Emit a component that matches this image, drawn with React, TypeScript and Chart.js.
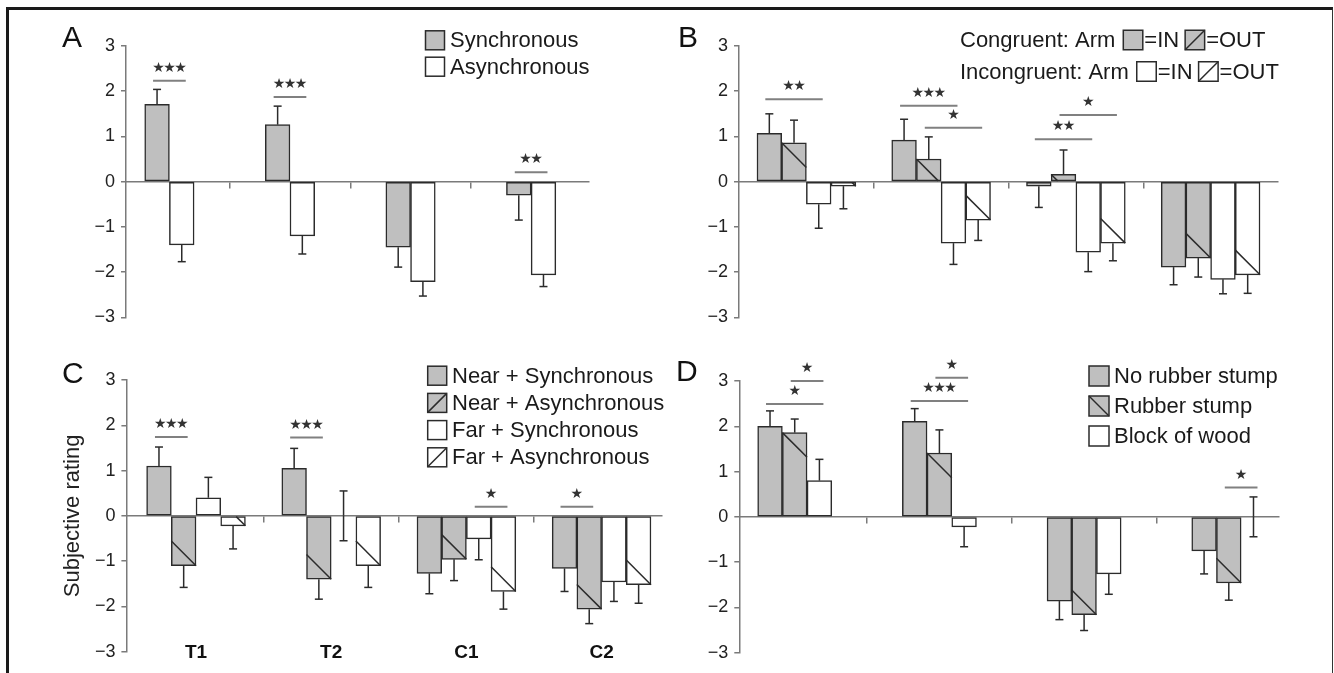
import React, { useEffect, useRef } from 'react';
import { Chart, registerables } from 'chart.js';

Chart.register(...registerables);

const FONT = '"Liberation Sans", Arial, Helvetica, sans-serif';
const STAR_FONT = '"DejaVu Sans", sans-serif';
const GRAY = '#bfbfbf';
const WHITE = '#ffffff';
const EDGE = '#2b2b2b';
const AXIS = '#7a7a7a';
const TEXT = '#1a1a1a';

// ---------- shared ----------
const groupLabels = ['T1', 'T2', 'C1', 'C2'];
const yTicks = [-3, -2, -1, 0, 1, 2, 3];
const yTitleC = 'Subjective rating';

// ---------- Panel A ----------
const aLabels = ['Synchronous', 'Asynchronous'];
const aSync = [1.71, 1.26, -1.45, -0.3];
const aSyncErr = [0.33, 0.41, 0.44, 0.55];
const aAsync = [-1.4, -1.2, -2.21, -2.06];
const aAsyncErr = [0.37, 0.4, 0.32, 0.26];
const aSigs = [
  { group: 0, from: 0, to: 1, level: 2.23, label: '***' },
  { group: 1, from: 0, to: 1, level: 1.87, label: '***' },
  { group: 3, from: 0, to: 1, level: 0.21, label: '**' },
];

// ---------- Panel B ----------
const bLabels = ['Congruent: Arm IN', 'Congruent: Arm OUT', 'Incongruent: Arm IN', 'Incongruent: Arm OUT'];
const bLegendRows = ['Congruent: Arm', 'Incongruent: Arm'];
const bLegendKeys = ['=IN', '=OUT'];
const bCongIn = [1.07, 0.92, -0.1, -1.89];
const bCongInErr = [0.43, 0.46, 0.47, 0.39];
const bCongOut = [0.86, 0.5, 0.16, -1.69];
const bCongOutErr = [0.5, 0.49, 0.54, 0.42];
const bIncIn = [-0.5, -1.36, -1.56, -2.16];
const bIncInErr = [0.53, 0.47, 0.43, 0.32];
const bIncOut = [-0.1, -0.85, -1.36, -2.06];
const bIncOutErr = [0.5, 0.45, 0.39, 0.41];
const bSigs = [
  { group: 0, from: 0, to: 2, level: 1.82, label: '**' },
  { group: 1, from: 0, to: 2, level: 1.68, label: '***' },
  { group: 1, from: 1, to: 3, level: 1.19, label: '*' },
  { group: 2, from: 0, to: 2, level: 0.94, label: '**' },
  { group: 2, from: 1, to: 3, level: 1.475, label: '*' },
];

// ---------- Panel C ----------
const cLabels = ['Near + Synchronous', 'Near + Asynchronous', 'Far + Synchronous', 'Far + Asynchronous'];
const cNearSync = [1.1, 1.05, -1.27, -1.16];
const cNearSyncErr = [0.42, 0.44, 0.45, 0.51];
const cNearAsync = [-1.1, -1.4, -0.96, -2.06];
const cNearAsyncErr = [0.48, 0.44, 0.47, 0.32];
const cFarSync = [0.4, 0.0, -0.51, -1.46];
const cFarSyncErr = [0.45, 0.55, 0.46, 0.43];
const cFarAsync = [-0.22, -1.1, -1.67, -1.52];
const cFarAsyncErr = [0.51, 0.48, 0.39, 0.41];
const cSigs = [
  { group: 0, from: 0, to: 1, level: 1.74, label: '***' },
  { group: 1, from: 0, to: 1, level: 1.73, label: '***' },
  { group: 2, from: 2, to: 3, level: 0.2, label: '*' },
  { group: 3, from: 0, to: 1, level: 0.2, label: '*' },
];

// ---------- Panel D ----------
const dLabels = ['No rubber stump', 'Rubber stump', 'Block of wood'];
const dNoStump = [2.0, 2.11, -1.86, -0.75];
const dNoStumpErr = [0.34, 0.28, 0.41, 0.51];
const dRubber = [1.86, 1.41, -2.16, -1.46];
const dRubberErr = [0.3, 0.51, 0.35, 0.38];
const dWood = [0.8, -0.22, -1.26, 0.0];
const dWoodErr = [0.47, 0.44, 0.45, 0.44];
const dSigs = [
  { group: 0, from: 1, to: 2, level: 3.0, label: '*' },
  { group: 0, from: 0, to: 2, level: 2.49, label: '*' },
  { group: 1, from: 1, to: 2, level: 3.07, label: '*' },
  { group: 1, from: 0, to: 2, level: 2.56, label: '***' },
  { group: 3, from: 1, to: 2, level: 0.65, label: '*' },
];

type Series = { label: string; values: number[]; errors: number[]; fill: string; hatch: boolean };
type Sig = { group: number; from: number; to: number; level: number; label: string };
type Legend = {
  kind: 'list' | 'inline';
  boxX: number;
  textX: number;
  rows: number[];
  box: number;
  dir: 'up' | 'down';
};
type Panel = {
  id: string;
  box: { left: number; top: number; width: number; height: number };
  area: { left: number; right: number; top: number; bottom: number };
  xRange: [number, number];
  axisWidth: number;
  letterPos: { x: number; y: number };
  series: Series[];
  sigs: Sig[];
  legend: Legend;
  showGroups: boolean;
  yTitle: string;
};

const panels: Panel[] = [
  {
    id: 'A',
    box: { left: 10, top: 10, width: 657, height: 325 },
    area: { left: 126, right: 589, top: 46, bottom: 317.3 },
    xRange: [-0.36, 3.48],
    axisWidth: 40,
    letterPos: { x: 62, y: 46.5 },
    series: [
      { label: aLabels[0], values: aSync, errors: aSyncErr, fill: GRAY, hatch: false },
      { label: aLabels[1], values: aAsync, errors: aAsyncErr, fill: WHITE, hatch: false },
    ],
    sigs: aSigs,
    legend: { kind: 'list', boxX: 425.5, textX: 450, rows: [40.3, 66.7], box: 19, dir: 'up' },
    showGroups: false,
    yTitle: '',
  },
  {
    id: 'B',
    box: { left: 667, top: 10, width: 660, height: 325 },
    area: { left: 739, right: 1278, top: 46, bottom: 317.3 },
    xRange: [-0.5, 3.5],
    axisWidth: 40,
    letterPos: { x: 678, y: 47 },
    series: [
      { label: bLabels[0], values: bCongIn, errors: bCongInErr, fill: GRAY, hatch: false },
      { label: bLabels[1], values: bCongOut, errors: bCongOutErr, fill: GRAY, hatch: true },
      { label: bLabels[2], values: bIncIn, errors: bIncInErr, fill: WHITE, hatch: false },
      { label: bLabels[3], values: bIncOut, errors: bIncOutErr, fill: WHITE, hatch: true },
    ],
    sigs: bSigs,
    legend: { kind: 'inline', boxX: 0, textX: 960, rows: [40, 71.5], box: 19.5, dir: 'up' },
    showGroups: false,
    yTitle: '',
  },
  {
    id: 'C',
    box: { left: 10, top: 335, width: 657, height: 338 },
    area: { left: 126.4, right: 662, top: 380, bottom: 651.7 },
    xRange: [-0.515, 3.447],
    axisWidth: 67,
    letterPos: { x: 62, y: 383 },
    series: [
      { label: cLabels[0], values: cNearSync, errors: cNearSyncErr, fill: GRAY, hatch: false },
      { label: cLabels[1], values: cNearAsync, errors: cNearAsyncErr, fill: GRAY, hatch: true },
      { label: cLabels[2], values: cFarSync, errors: cFarSyncErr, fill: WHITE, hatch: false },
      { label: cLabels[3], values: cFarAsync, errors: cFarAsyncErr, fill: WHITE, hatch: true },
    ],
    sigs: cSigs,
    legend: { kind: 'list', boxX: 427.7, textX: 452, rows: [375.7, 402.9, 430.1, 457.3], box: 19, dir: 'up' },
    showGroups: true,
    yTitle: yTitleC,
  },
  {
    id: 'D',
    box: { left: 667, top: 335, width: 660, height: 338 },
    area: { left: 739.3, right: 1279, top: 381, bottom: 652.7 },
    xRange: [-0.383, 3.347],
    axisWidth: 40,
    letterPos: { x: 676, y: 381 },
    series: [
      { label: dLabels[0], values: dNoStump, errors: dNoStumpErr, fill: GRAY, hatch: false },
      { label: dLabels[1], values: dRubber, errors: dRubberErr, fill: GRAY, hatch: true },
      { label: dLabels[2], values: dWood, errors: dWoodErr, fill: WHITE, hatch: false },
    ],
    sigs: dSigs,
    legend: { kind: 'list', boxX: 1089, textX: 1114, rows: [376, 406, 436], box: 20, dir: 'down' },
    showGroups: false,
    yTitle: '',
  },
];

function line(ctx: CanvasRenderingContext2D, x1: number, y1: number, x2: number, y2: number) {
  ctx.beginPath();
  ctx.moveTo(x1, y1);
  ctx.lineTo(x2, y2);
  ctx.stroke();
}

function legendBox(ctx: CanvasRenderingContext2D, x: number, yc: number, size: number, fill: string, hatch: boolean, dir: 'up' | 'down') {
  const top = yc - size / 2;
  ctx.fillStyle = fill;
  ctx.fillRect(x, top, size, size);
  ctx.strokeStyle = EDGE;
  ctx.lineWidth = 1.5;
  ctx.strokeRect(x, top, size, size);
  if (hatch) {
    if (dir === 'up') line(ctx, x, top + size, x + size, top);
    else line(ctx, x, top, x + size, top + size);
  }
}

function makePlugin(p: Panel) {
  const ox = p.box.left;
  const oy = p.box.top;
  return {
    id: 'panelDecor' + p.id,
    afterDatasetsDraw(chart: any) {
      const ctx: CanvasRenderingContext2D = chart.ctx;
      const yS = chart.scales.y;
      ctx.save();
      p.series.forEach((s, di) => {
        const meta = chart.getDatasetMeta(di);
        meta.data.forEach((el: any, i: number) => {
          const v = s.values[i];
          const e = s.errors[i];
          const { x, y, base, width } = el.getProps(['x', 'y', 'base', 'width'], true);
          const left = x - width / 2;
          const right = x + width / 2;
          const top = Math.min(y, base);
          const bottom = Math.max(y, base);
          ctx.strokeStyle = EDGE;
          ctx.lineWidth = 1.5;
          if (s.hatch && bottom - top > 0.5) {
            const d = Math.min(right - left, bottom - top);
            if (v >= 0) line(ctx, left, top, left + d, top + d);
            else line(ctx, right - d, bottom - d, right, bottom);
          }
          const ends = v === 0 ? [e, -e] : [v + Math.sign(v) * e];
          ends.forEach((end) => {
            const y0 = yS.getPixelForValue(v);
            const y1 = yS.getPixelForValue(end);
            line(ctx, x, y0, x, y1);
            line(ctx, x - 4, y1, x + 4, y1);
          });
        });
      });
      p.sigs.forEach((sg) => {
        const a = chart.getDatasetMeta(sg.from).data[sg.group];
        const b = chart.getDatasetMeta(sg.to).data[sg.group];
        const x1 = a.x - 4;
        const x2 = b.x + 4;
        const yy = yS.getPixelForValue(sg.level);
        ctx.strokeStyle = '#808080';
        ctx.lineWidth = 2;
        line(ctx, x1, yy, x2, yy);
        ctx.fillStyle = '#333';
        ctx.font = `14px ${STAR_FONT}`;
        ctx.textAlign = 'center';
        ctx.textBaseline = 'middle';
        const n = sg.label.length;
        const mid = (x1 + x2) / 2;
        for (let k = 0; k < n; k++) {
          ctx.fillText('\u2605', mid + (k - (n - 1) / 2) * 11, yy - 12.5);
        }
      });
      ctx.restore();
    },
    afterDraw(chart: any) {
      const ctx: CanvasRenderingContext2D = chart.ctx;
      ctx.save();
      ctx.fillStyle = '#111';
      ctx.font = `30px ${FONT}`;
      ctx.textAlign = 'left';
      ctx.textBaseline = 'alphabetic';
      ctx.fillText(p.id, p.letterPos.x - ox, p.letterPos.y - oy);
      const L = p.legend;
      ctx.font = `22px ${FONT}`;
      ctx.textBaseline = 'middle';
      if (L.kind === 'list') {
        p.series.forEach((s, i) => {
          const yc = L.rows[i] - oy;
          legendBox(ctx, L.boxX - ox, yc, L.box, s.fill, s.hatch, L.dir);
          ctx.fillStyle = TEXT;
          ctx.fillText(s.label, L.textX - ox, yc + 1);
        });
      } else {
        bLegendRows.forEach((rowText, r) => {
          const yc = L.rows[r] - oy;
          ctx.fillStyle = TEXT;
          let x = L.textX - ox;
          ctx.fillText(rowText, x, yc + 1);
          x += ctx.measureText(rowText).width + 8;
          bLegendKeys.forEach((key, k) => {
            const s = p.series[r * 2 + k];
            legendBox(ctx, x, yc, L.box, s.fill, s.hatch, L.dir);
            x += L.box + 1.5;
            ctx.fillStyle = TEXT;
            ctx.fillText(key, x, yc + 1);
            x += ctx.measureText(key).width + 6;
          });
        });
      }
      ctx.restore();
    },
  };
}

function fmtTick(v: number) {
  return v < 0 ? '\u2212' + Math.abs(v) : String(v);
}

function PanelChart({ p }: { p: Panel }) {
  const ref = useRef<HTMLCanvasElement | null>(null);
  useEffect(() => {
    if (!ref.current) return;
    const boundaries = groupLabels.slice(1).map((_, i) => i + 0.5);
    const scales: any = {
      x: {
        type: 'linear',
        min: p.xRange[0],
        max: p.xRange[1],
        offset: false,
        bounds: 'data',
        position: { y: 0 },
        afterFit: (s: any) => {
          s.height = 0;
        },
        afterBuildTicks: (s: any) => {
          s.ticks = boundaries.map((v) => ({ value: v }));
        },
        ticks: { display: false },
        grid: { display: true, offset: false, drawOnChartArea: false, drawTicks: true, tickLength: 6, color: AXIS, lineWidth: 1.5 },
        border: { display: true, color: AXIS, width: 1.5 },
      },
      y: {
        type: 'linear',
        min: -3,
        max: 3,
        position: 'left',
        afterFit: (s: any) => {
          s.width = p.axisWidth;
        },
        afterBuildTicks: (s: any) => {
          s.ticks = yTicks.map((v) => ({ value: v }));
        },
        ticks: { color: '#222', font: { family: FONT, size: 18 }, padding: 6, callback: (v: number) => fmtTick(v) },
        grid: { display: true, drawOnChartArea: false, drawTicks: true, tickLength: 5, color: AXIS, lineWidth: 1.5 },
        border: { display: true, color: AXIS, width: 1.5 },
        title: {
          display: !!p.yTitle,
          text: p.yTitle,
          color: '#222',
          font: { family: FONT, size: 22 },
          padding: 0,
        },
      },
    };
    if (p.showGroups) {
      scales.x2 = {
        type: 'linear',
        axis: 'x',
        min: p.xRange[0],
        max: p.xRange[1],
        offset: false,
        bounds: 'data',
        position: { y: -3 },
        afterFit: (s: any) => {
          s.height = 0;
        },
        afterBuildTicks: (s: any) => {
          s.ticks = groupLabels.map((_, i) => ({ value: i }));
        },
        ticks: {
          display: true,
          autoSkip: false,
          maxRotation: 0,
          padding: -10,
          color: '#111',
          font: { family: FONT, size: 19, weight: 'bold' },
          callback: (v: number) => groupLabels[Math.round(v)] ?? '',
        },
        grid: { display: false, drawTicks: false, offset: false },
        border: { display: false },
      };
    }
    const chart = new Chart(ref.current, {
      type: 'bar',
      data: {
        datasets: p.series.map((s) => ({
          label: s.label,
          data: s.values.map((v, i) => ({ x: i, y: v })),
          backgroundColor: s.fill,
          borderColor: EDGE,
          borderWidth: 1.5,
          borderSkipped: false,
          barThickness: 24.7,
          xAxisID: 'x',
          yAxisID: 'y',
        })),
      },
      options: {
        animation: false,
        responsive: false,
        events: [],
        layout: {
          padding: {
            left: p.area.left - p.box.left - p.axisWidth,
            right: p.box.left + p.box.width - p.area.right,
            top: p.area.top - p.box.top,
            bottom: p.box.top + p.box.height - p.area.bottom,
          },
        },
        plugins: { legend: { display: false }, tooltip: { enabled: false } },
        scales,
      } as any,
      plugins: [makePlugin(p)],
    });
    return () => chart.destroy();
  }, [p]);
  return (
    <canvas
      ref={ref}
      width={p.box.width}
      height={p.box.height}
      style={{ position: 'absolute', left: p.box.left, top: p.box.top }}
    />
  );
}

export default function App() {
  return (
    <div style={{ position: 'absolute', left: 0, top: 0, width: 1334, height: 673, overflow: 'hidden', background: '#fff' }}>
      <div
        style={{
          position: 'absolute',
          left: 6,
          top: 7,
          width: 1327,
          height: 720,
          boxSizing: 'border-box',
          borderLeft: '3px solid #1a1a1a',
          borderTop: '3px solid #1a1a1a',
          borderRight: '1px solid #333',
        }}
      />
      {panels.map((p) => (
        <PanelChart key={p.id} p={p} />
      ))}
    </div>
  );
}
